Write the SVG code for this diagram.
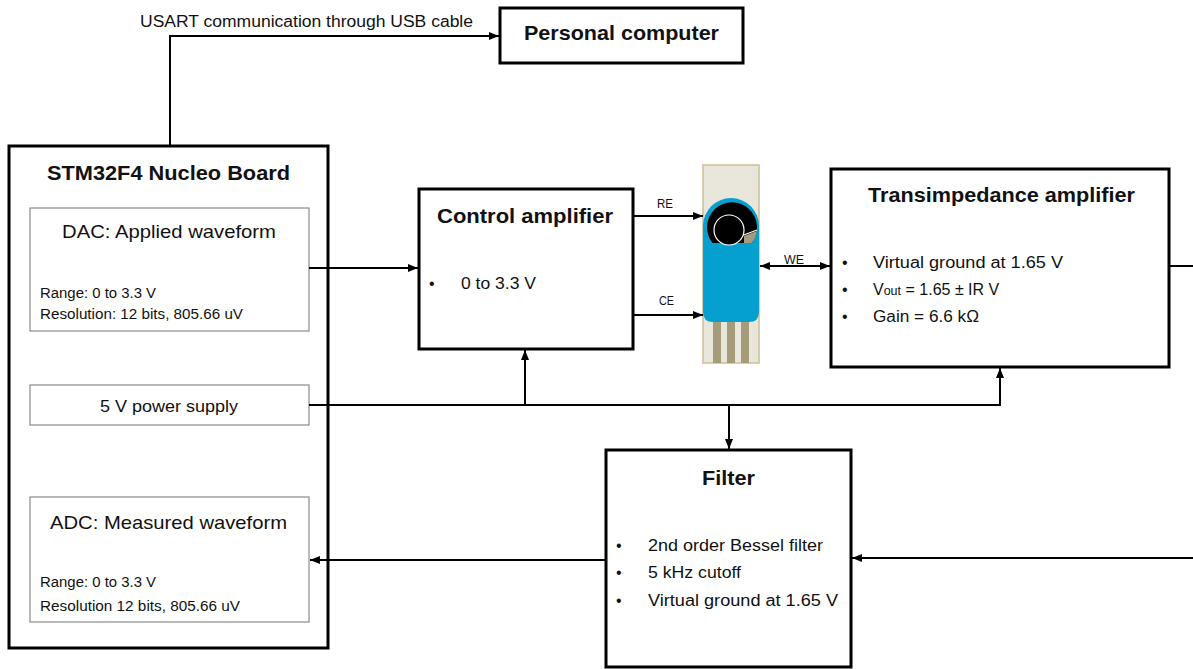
<svg xmlns="http://www.w3.org/2000/svg" width="1193" height="669" viewBox="0 0 1193 669">
  <style>
    .blk { fill: #ffffff; stroke: #000000; stroke-width: 3; }
    .sub { fill: #ffffff; stroke: #8a8a8a; stroke-width: 1.2; }
    .wire { fill: none; stroke: #000000; stroke-width: 2; }
    text { font-family: "Liberation Sans", Arial, sans-serif; fill: #111111; }
    .ttl { font-weight: bold; font-size: 21px; }
    .hd { font-size: 19px; }
    .sm { font-size: 14px; }
    .bl { font-size: 16px; }
    .lbl { font-size: 13px; }
  </style>
  <defs>
    <marker id="arr" markerUnits="userSpaceOnUse" markerWidth="10" markerHeight="10" viewBox="0 0 10 10" refX="10" refY="5" orient="auto-start-reverse">
      <path d="M0,1 L10,5 L0,9 Z" fill="#000000"/>
    </marker>
  </defs>

  <!-- personal computer -->
  <g id="pc">
    <rect class="blk" x="500" y="8" width="243" height="55"/>
    <text class="ttl" x="524" y="40" textLength="195" lengthAdjust="spacingAndGlyphs">Personal computer</text>
  </g>

  <!-- microcontroller board -->
  <g id="board">
    <rect class="blk" x="9" y="146" width="319" height="502"/>
    <text class="ttl" x="47" y="180" textLength="243" lengthAdjust="spacingAndGlyphs">STM32F4 Nucleo Board</text>
  </g>
  <g id="dac">
    <rect class="sub" x="30" y="208" width="279" height="123"/>
    <text class="hd" x="62" y="238" textLength="214" lengthAdjust="spacingAndGlyphs">DAC: Applied waveform</text>
    <text class="sm" x="40" y="298" textLength="116" lengthAdjust="spacingAndGlyphs">Range: 0 to 3.3 V</text>
    <text class="sm" x="40" y="319" textLength="203" lengthAdjust="spacingAndGlyphs">Resolution: 12 bits, 805.66 uV</text>
  </g>
  <g id="psu">
    <rect class="sub" x="30" y="385" width="279" height="40"/>
    <text class="bl" x="100" y="412" textLength="138" lengthAdjust="spacingAndGlyphs">5 V power supply</text>
  </g>
  <g id="adc">
    <rect class="sub" x="30" y="497" width="279" height="125"/>
    <text class="hd" x="50" y="529" textLength="237" lengthAdjust="spacingAndGlyphs">ADC: Measured waveform</text>
    <text class="sm" x="40" y="587" textLength="116" lengthAdjust="spacingAndGlyphs">Range: 0 to 3.3 V</text>
    <text class="sm" x="40" y="611" textLength="200" lengthAdjust="spacingAndGlyphs">Resolution 12 bits, 805.66 uV</text>
  </g>

  <!-- control amplifier -->
  <g id="control-amp">
    <rect class="blk" x="419" y="189" width="214" height="160"/>
    <text class="ttl" x="437" y="223" textLength="176" lengthAdjust="spacingAndGlyphs">Control amplifier</text>
    <text class="bl" x="429" y="289">•</text>
    <text class="bl" x="461" y="289" textLength="75" lengthAdjust="spacingAndGlyphs">0 to 3.3 V</text>
  </g>

  <!-- screen-printed electrode -->
  <g id="electrode">
    <rect x="703" y="165" width="56" height="198" fill="#e9e7dc" stroke="#cdbf98" stroke-width="1.5"/>
    <rect x="713" y="318" width="8" height="45" fill="#a69c7c"/>
    <rect x="727" y="318" width="8" height="45" fill="#a69c7c"/>
    <rect x="741" y="318" width="8" height="45" fill="#a69c7c"/>
    <path d="M703,226 A28,28 0 0 1 759,226 L759,312 Q759,322 749,322 L713,322 Q703,322 703,312 Z" fill="#06a0cf"/>
    <path d="M712.5,243 A25,25 0 1 1 751.5,243 Z" fill="#000000"/>
    <path d="M744,236 L757,231 L755,238 L751.5,243 L744,243 Z" fill="#a69c7c"/>
    <path d="M741,236 L757,230" stroke="#ffffff" stroke-width="1.2"/>
    <circle cx="729" cy="230" r="15" fill="#000000" stroke="#ffffff" stroke-width="1.2"/>
  </g>

  <!-- transimpedance amplifier -->
  <g id="tia">
    <rect class="blk" x="831" y="169" width="338" height="198"/>
    <text class="ttl" x="868" y="202" textLength="267" lengthAdjust="spacingAndGlyphs">Transimpedance amplifier</text>
    <text class="bl" x="842" y="268">•</text>
    <text class="bl" x="873" y="268" textLength="190" lengthAdjust="spacingAndGlyphs">Virtual ground at 1.65 V</text>
    <text class="bl" x="842" y="295">•</text>
    <text class="bl" x="873" y="295">V<tspan font-size="12.5px">out</tspan> = 1.65 ± IR V</text>
    <text class="bl" x="842" y="322">•</text>
    <text class="bl" x="873" y="322" textLength="106" lengthAdjust="spacingAndGlyphs">Gain = 6.6 kΩ</text>
  </g>

  <!-- filter -->
  <g id="filter">
    <rect class="blk" x="606" y="450" width="245" height="217"/>
    <text class="ttl" x="702" y="485" textLength="53" lengthAdjust="spacingAndGlyphs">Filter</text>
    <text class="bl" x="616" y="551">•</text>
    <text class="bl" x="648" y="551" textLength="175" lengthAdjust="spacingAndGlyphs">2nd order Bessel filter</text>
    <text class="bl" x="616" y="578">•</text>
    <text class="bl" x="648" y="578" textLength="93" lengthAdjust="spacingAndGlyphs">5 kHz cutoff</text>
    <text class="bl" x="616" y="606">•</text>
    <text class="bl" x="648" y="606" textLength="190" lengthAdjust="spacingAndGlyphs">Virtual ground at 1.65 V</text>
  </g>

  <!-- connectors, drawn last so they cross the board frame -->
  <g id="connectors">
    <path class="wire" d="M170,146 V36 H499" marker-end="url(#arr)"/>
    <path class="wire" d="M309,268 H418" marker-end="url(#arr)"/>
    <path class="wire" d="M633,216 H703" marker-end="url(#arr)"/>
    <path class="wire" d="M633,315 H703" marker-end="url(#arr)"/>
    <path class="wire" d="M760,266 H830" marker-start="url(#arr)" marker-end="url(#arr)"/>
    <path class="wire" d="M309,405 H1000 V368" marker-end="url(#arr)"/>
    <path class="wire" d="M525,405 V350" marker-end="url(#arr)"/>
    <path class="wire" d="M729,405 V449" marker-end="url(#arr)"/>
    <path class="wire" d="M1169,266 H1193"/>
    <path class="wire" d="M1193,558 H852" marker-end="url(#arr)"/>
    <path class="wire" d="M606,560 H310" marker-end="url(#arr)"/>
    <text class="bl" x="140" y="27" textLength="333" lengthAdjust="spacingAndGlyphs">USART communication through USB cable</text>
    <text class="lbl" x="657" y="208" textLength="16" lengthAdjust="spacingAndGlyphs">RE</text>
    <text class="lbl" x="659" y="305" textLength="15" lengthAdjust="spacingAndGlyphs">CE</text>
    <text class="lbl" x="784" y="264" textLength="20" lengthAdjust="spacingAndGlyphs">WE</text>
  </g>
</svg>
